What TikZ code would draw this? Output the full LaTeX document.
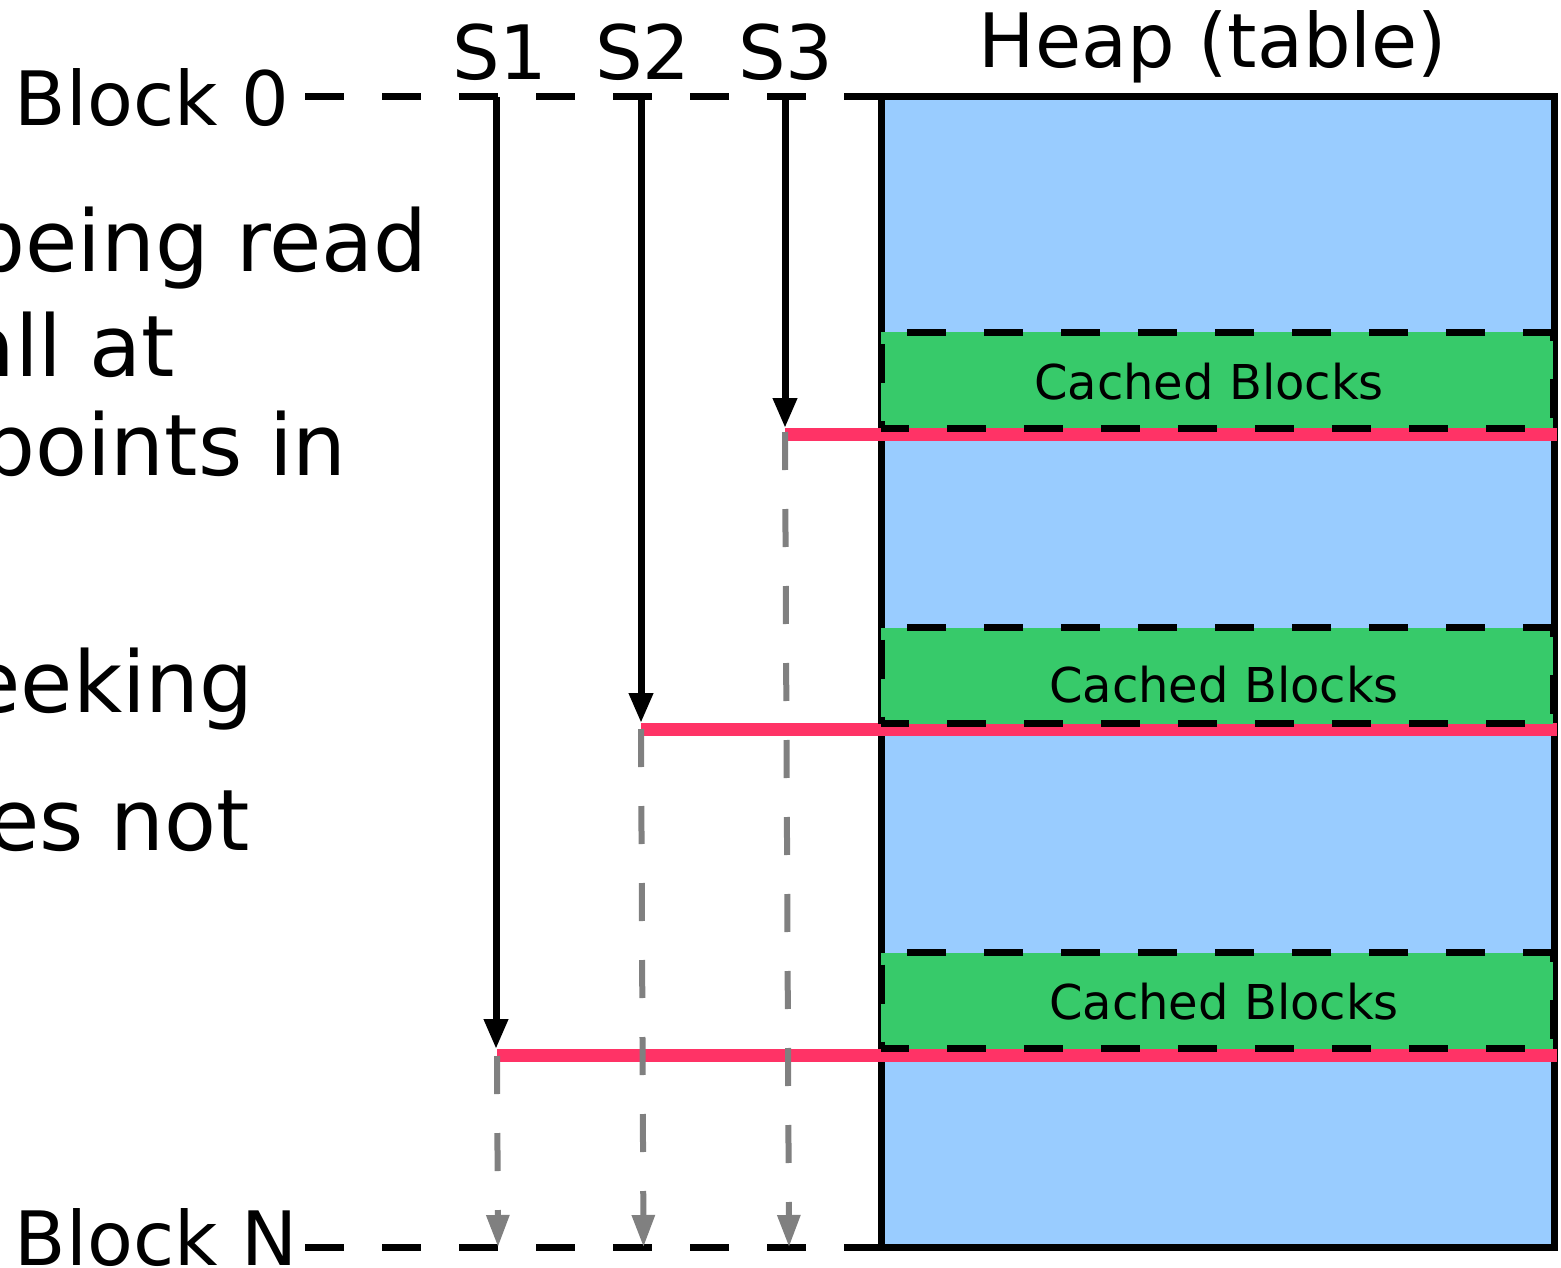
\documentclass[tikz,border=0pt]{standalone}
\usepackage{fontspec}
\setmainfont{DejaVu Sans}
\usetikzlibrary{arrows.meta}
\definecolor{heapblue}{RGB}{153,204,255}
\definecolor{cachegreen}{RGB}{55,202,106}
\definecolor{readred}{RGB}{255,51,102}
\definecolor{ghost}{RGB}{128,128,128}
\begin{document}
\begin{tikzpicture}[x=1pt,y=-1pt,
  big/.style={font=\fontsize{75}{90}\selectfont, inner sep=0pt},
  side/.style={font=\fontsize{85}{100}\selectfont, inner sep=0pt, anchor=base east},
  heapbox/.style={draw=black, line width=7pt, fill=heapblue, minimum width=673pt, minimum height=1150pt, inner sep=0pt},
  cachebox/.style={draw=black, fill=cachegreen, line width=7pt, dash pattern=on 39pt off 38pt, dash phase=11pt, minimum width=672pt, minimum height=96pt, inner sep=0pt},
  cachetext/.style={font=\fontsize{48}{58}\selectfont, inner sep=0pt, anchor=base},
  blockline/.style={line width=7pt, dash pattern=on 39pt off 38pt},
  scan/.style={line width=7pt, -{Triangle[width=23pt,length=30pt]}},
  rest/.style={line width=6pt, ghost, dash pattern=on 38pt off 39pt, -{Triangle[width=22pt,length=32pt]}},
  readline/.style={readred, line width=13pt},
]
\useasboundingbox (0,0) rectangle (1561,1268);

% left, partly cut text
\node[side] (l1) at (428,272) {being read};
\node[side] (l2) at (175,376) {all at};
\node[side] (l3) at (347,475) {points in};
\node[side] (l4) at (254,712) {seeking};
\node[side] (l5) at (250,850) {does not};

% heap
\node[heapbox] (heap) at (1217.5,672) {};
\node[big, anchor=base] (title) at (1213,68) {Heap (table)};

% read positions
\coordinate (r3) at (785,434);
\coordinate (r2) at (641,729);
\coordinate (r1) at (497,1055);
\draw[readline] (r3) -- ([xshift=-1pt]r3 -| heap.east);
\draw[readline] (r2) -- ([xshift=-1pt]r2 -| heap.east);
\draw[readline] (r1) -- ([xshift=-1pt]r1 -| heap.east);

% cached blocks
\node[cachebox] (c1) at (1217,380) {};
\node[cachebox] (c2) at (1217,675.5) {};
\node[cachebox] (c3) at (1217,1000.5) {};
\node[cachetext] (t1) at (1209,399) {Cached Blocks};
\node[cachetext] (t2) at (1224,702) {Cached Blocks};
\node[cachetext] (t3) at (1224,1019) {Cached Blocks};

% block lines
\node[big, anchor=base west] (blk0) at (14.6,126) {Block 0};
\node[big, anchor=base west] (blkN) at (14.6,1265) {Block N};
\coordinate (b0) at (305,97);
\coordinate (bN) at (305,1247);
\draw[blockline] (b0) -- (b0 -| heap.west);
\draw[blockline] (bN) -- (bN -| heap.west);

% scans
\node[big, anchor=base] (s1) at (500,80) {S1};
\node[big, anchor=base] (s2) at (643,80) {S2};
\node[big, anchor=base] (s3) at (786,80) {S3};
\coordinate (s1top) at (496,97);
\coordinate (s2top) at (641,97);
\coordinate (s3top) at (785,97);
\coordinate (s1tip) at (496,1049);
\coordinate (s2tip) at (641,723);
\coordinate (s3tip) at (785,428);
\draw[scan] (s1top) -- (s1tip);
\draw[scan] (s2top) -- (s2tip);
\draw[scan] (s3top) -- (s3tip);

% remaining (not read) parts
\coordinate (g1) at (497,1056);
\coordinate (g2) at (641,729);
\coordinate (g3) at (785,432);
\coordinate (e1) at (498,1247);
\coordinate (e2) at (643.5,1247);
\coordinate (e3) at (789,1247);
\draw[rest] (g1) -- (e1);
\draw[rest] (g2) -- (e2);
\draw[rest] (g3) -- (e3);
\end{tikzpicture}
\end{document}
